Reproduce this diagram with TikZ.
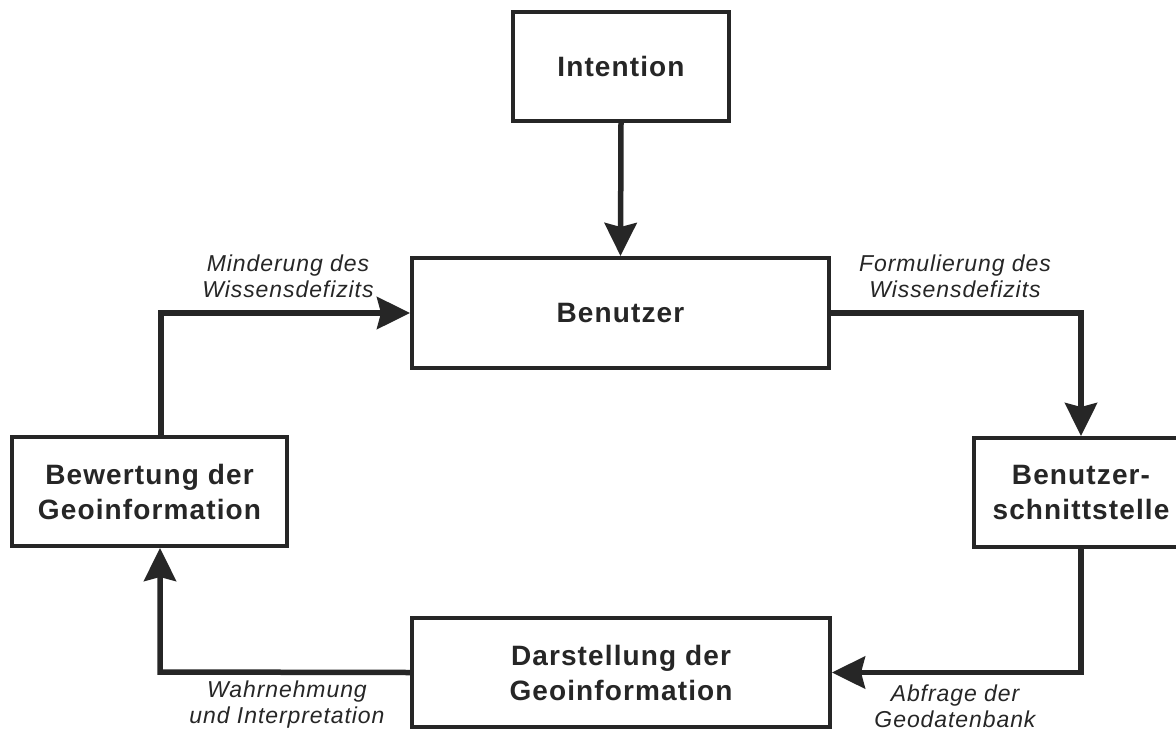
\documentclass[tikz,border=0pt]{standalone}
\usepackage{fontspec}
\setmainfont{Liberation Sans}
\usetikzlibrary{arrows.meta}
\definecolor{ink}{HTML}{262626}
\tikzset{
  box/.style={draw=ink, line width=4pt, fill=white, inner sep=0pt, align=center,
    text=ink, font=\fontsize{28}{35}\selectfont\bfseries\addfontfeature{LetterSpace=4}},
  conn/.style={draw=ink, line width=5.5pt, -{Stealth[length=33pt,width=32pt,inset=4pt]}},
  lbl/.style={text=ink, align=center, inner sep=0pt,
    font=\fontsize{23}{26}\selectfont\itshape\addfontfeature{LetterSpace=4}}
}
\begin{document}
\begin{tikzpicture}[x=1pt,y=-1pt]
\useasboundingbox (0,0) rectangle (1176,734);
\fill[white] (0,0) rectangle (1176,734);
% boxes
\node[box, minimum width=216pt, minimum height=109pt] (I) at (621,66.5) {Intention};
\node[box, minimum width=417pt, minimum height=110pt] (B) at (620.5,313) {Benutzer};
\node[box, minimum width=214pt, minimum height=109pt] (S) at (1081,492.5) {Benutzer-\\schnittstelle};
\node[box, minimum width=275pt, minimum height=109pt] (W) at (149.5,491.5) {Bewertung der\\Geoinformation};
\node[box, minimum width=418pt, minimum height=109pt] (D) at (621,672.5) {Darstellung der\\Geoinformation};
% connectors
\coordinate (cl) at (161,313);
\coordinate (cb) at (160,672);
\draw[conn] (I.south) -- (B.north);
\draw[conn] (B.east) -| (S.north);
\draw[conn] (S.south) |- (D.east);
\draw[conn] (D.west) -- (cb) -- (cb |- W.south);
\draw[conn] (cl |- W.north) -- (cl) -- (B.west);
% labels
\node[lbl] (l1) at (288,276) {Minderung des\\Wissensdefizits};
\node[lbl] (l2) at (955,276) {Formulierung des\\Wissensdefizits};
\node[lbl] (l3) at (287,705) {Wahrnehmung\\und Interpretation};
\node[lbl] (l4) at (955,706) {Abfrage der\\Geodatenbank};
\end{tikzpicture}
\end{document}
